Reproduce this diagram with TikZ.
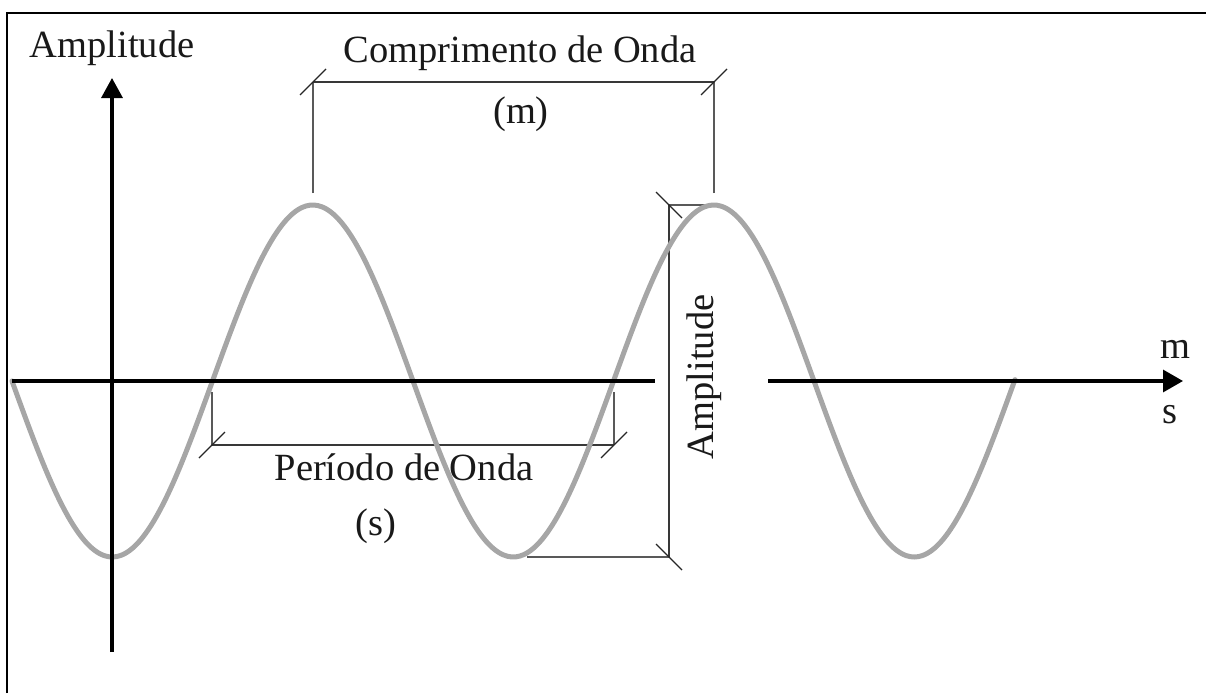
\documentclass[tikz,border=0pt]{standalone}
\usepackage{fontspec}
\setmainfont{Liberation Serif}
\usetikzlibrary{arrows.meta}
\begin{document}
\begin{tikzpicture}[x=1pt,y=-1pt,
  lbl/.style={font=\fontsize{38.5}{42}\selectfont, inner sep=0pt, anchor=base, text=black!90},
  axisline/.style={line width=3.3pt, draw=black},
  dimline/.style={line width=1.3pt, draw=black!78},
  extline/.style={line width=1.3pt, draw=black!65},
  tickmark/.style={line width=1.3pt, draw=black!85},
  wave/.style={line width=5pt, draw=black!35, line cap=round},
  frameline/.style={line width=2.8pt, draw=black}]
\useasboundingbox (0,0) rectangle (1206,693);
% frame
\coordinate (fBL) at (7,693);
\coordinate (fTL) at (7,13);
\coordinate (fTR) at (1206,13);
\draw[frameline] (fBL) -- (fTL) -- (fTR);

% wavelength dimension
\coordinate (cL) at (313,82);
\coordinate (cR) at (714,82);
\coordinate (pk1) at (313,193);
\coordinate (pk2) at (714,193);
\draw[extline] (pk1) -- (cL);
\draw[extline] (pk2) -- (cR);
\draw[dimline] (cL) -- (cR);
\draw[tickmark] ([shift={(-13,13)}]cL) -- ([shift={(13,-13)}]cL);
\draw[tickmark] ([shift={(-13,13)}]cR) -- ([shift={(13,-13)}]cR);
\node[lbl] (tcomp) at (520,63) {Comprimento de Onda};
\node[lbl] (tm) at (521,123) {(m)};

% period dimension
\coordinate (pA) at (212,392);
\coordinate (pB) at (212,445);
\coordinate (pC) at (614,445);
\coordinate (pD) at (614,392);
\draw[extline] (pA) -- (pB);
\draw[extline] (pD) -- (pC);
\draw[dimline] (pB) -- (pC);
\draw[tickmark] ([shift={(-13,13)}]pB) -- ([shift={(13,-13)}]pB);
\draw[tickmark] ([shift={(-13,13)}]pC) -- ([shift={(13,-13)}]pC);
\node[lbl] (tper) at (404,480) {Período de Onda};
\node[lbl] (ts) at (376,535) {(s)};

% amplitude dimension
\coordinate (aT) at (669,205);
\coordinate (aB) at (669,557);
\coordinate (aTe) at (705,205);
\coordinate (aBe) at (527,557);
\draw[extline] (aT) -- (aTe);
\draw[extline] (aBe) -- (aB);
\draw[dimline] (aT) -- (aB);
\draw[tickmark] ([shift={(-13,-13)}]aT) -- ([shift={(13,13)}]aT);
\draw[tickmark] ([shift={(-13,-13)}]aB) -- ([shift={(13,13)}]aB);
\node[lbl, rotate=90] (tamp2) at (713,377) {Amplitude};

% wave
\draw[wave] plot[domain=12:1015, samples=250, smooth] (\x, {381+176*sin(0.89776*(\x-12))});

% axes
\coordinate (yb) at (112,652);
\coordinate (yt) at (112,78);
\coordinate (xa0) at (12,381);
\coordinate (xa1) at (655,381);
\coordinate (xb0) at (768,381);
\coordinate (xb1) at (1183,381);
\draw[axisline, -{Triangle[length=20pt,width=21pt]}] (yb) -- (yt);
\draw[axisline] (xa0) -- (xa1);
\draw[axisline, -{Triangle[length=20pt,width=22pt]}] (xb0) -- (xb1);

\node[lbl] (tamp) at (112,58) {Amplitude};
\node[lbl] (tmx) at (1175,358) {m};
\node[lbl] (tsx) at (1170,423) {s};
\end{tikzpicture}
\end{document}
